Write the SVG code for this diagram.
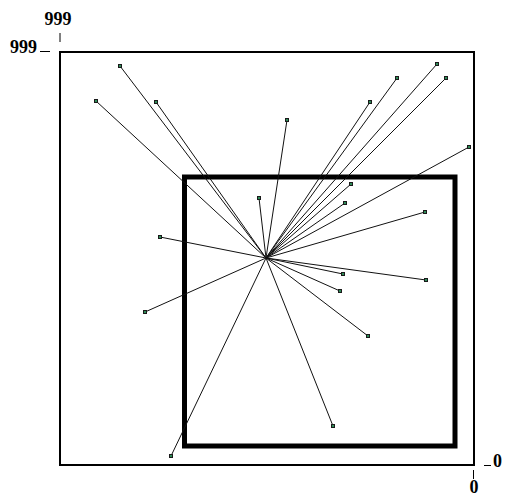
<svg xmlns="http://www.w3.org/2000/svg" width="505" height="497" viewBox="0 0 505 497">
<style>
.lbl{font-family:"Liberation Serif","Times New Roman",serif;font-weight:bold;font-size:18px;fill:#000}
.tick{stroke:#000;stroke-width:1}
.ray{stroke:#111;stroke-width:1;fill:none}
.pt{fill:#2e8b57;stroke:#1a1a1a;stroke-width:1}
</style>
<rect width="505" height="497" fill="#fff"/>
<g id="frame">
<rect x="60" y="52" width="414" height="413" fill="none" stroke="#000" stroke-width="2"/>
</g>
<g id="axis-labels">
<text class="lbl" x="58" y="25" text-anchor="middle">999</text>
<line class="tick" x1="60" y1="33" x2="60" y2="42"/>
<text class="lbl" x="37" y="53" text-anchor="end">999</text>
<line class="tick" x1="40" y1="51.5" x2="50" y2="51.5"/>
<line class="tick" x1="484" y1="465.5" x2="491" y2="465.5"/>
<text class="lbl" x="493" y="467">0</text>
<line class="tick" x1="473.5" y1="470" x2="473.5" y2="479"/>
<text class="lbl" x="474" y="493" text-anchor="middle">0</text>
</g>
<g id="region">
<rect x="184.5" y="177" width="270.5" height="269" fill="none" stroke="#000" stroke-width="5"/>
</g>
<g id="connectors">
<line class="ray" x1="266" y1="258" x2="120" y2="66"/>
<line class="ray" x1="266" y1="258" x2="96" y2="101"/>
<line class="ray" x1="266" y1="258" x2="156" y2="102"/>
<line class="ray" x1="266" y1="258" x2="287" y2="120"/>
<line class="ray" x1="266" y1="258" x2="259" y2="198"/>
<line class="ray" x1="266" y1="258" x2="160" y2="237"/>
<line class="ray" x1="266" y1="258" x2="145" y2="312"/>
<line class="ray" x1="266" y1="258" x2="171" y2="456"/>
<line class="ray" x1="266" y1="258" x2="333" y2="426"/>
<line class="ray" x1="266" y1="258" x2="368" y2="336"/>
<line class="ray" x1="266" y1="258" x2="340" y2="291"/>
<line class="ray" x1="266" y1="258" x2="343" y2="274"/>
<line class="ray" x1="266" y1="258" x2="426" y2="280"/>
<line class="ray" x1="266" y1="258" x2="425" y2="212"/>
<line class="ray" x1="266" y1="258" x2="345" y2="203"/>
<line class="ray" x1="266" y1="258" x2="351" y2="184"/>
<line class="ray" x1="266" y1="258" x2="469" y2="147"/>
<line class="ray" x1="266" y1="258" x2="370" y2="102"/>
<line class="ray" x1="266" y1="258" x2="397" y2="78"/>
<line class="ray" x1="266" y1="258" x2="437" y2="64"/>
<line class="ray" x1="266" y1="258" x2="446" y2="78"/>
</g>
<g id="points">
<rect class="pt" x="118.5" y="64.5" width="3" height="3"/>
<rect class="pt" x="94.5" y="99.5" width="3" height="3"/>
<rect class="pt" x="154.5" y="100.5" width="3" height="3"/>
<rect class="pt" x="285.5" y="118.5" width="3" height="3"/>
<rect class="pt" x="257.5" y="196.5" width="3" height="3"/>
<rect class="pt" x="158.5" y="235.5" width="3" height="3"/>
<rect class="pt" x="143.5" y="310.5" width="3" height="3"/>
<rect class="pt" x="169.5" y="454.5" width="3" height="3"/>
<rect class="pt" x="331.5" y="424.5" width="3" height="3"/>
<rect class="pt" x="366.5" y="334.5" width="3" height="3"/>
<rect class="pt" x="338.5" y="289.5" width="3" height="3"/>
<rect class="pt" x="341.5" y="272.5" width="3" height="3"/>
<rect class="pt" x="424.5" y="278.5" width="3" height="3"/>
<rect class="pt" x="423.5" y="210.5" width="3" height="3"/>
<rect class="pt" x="343.5" y="201.5" width="3" height="3"/>
<rect class="pt" x="349.5" y="182.5" width="3" height="3"/>
<rect class="pt" x="467.5" y="145.5" width="3" height="3"/>
<rect class="pt" x="368.5" y="100.5" width="3" height="3"/>
<rect class="pt" x="395.5" y="76.5" width="3" height="3"/>
<rect class="pt" x="435.5" y="62.5" width="3" height="3"/>
<rect class="pt" x="444.5" y="76.5" width="3" height="3"/>
</g>
</svg>
